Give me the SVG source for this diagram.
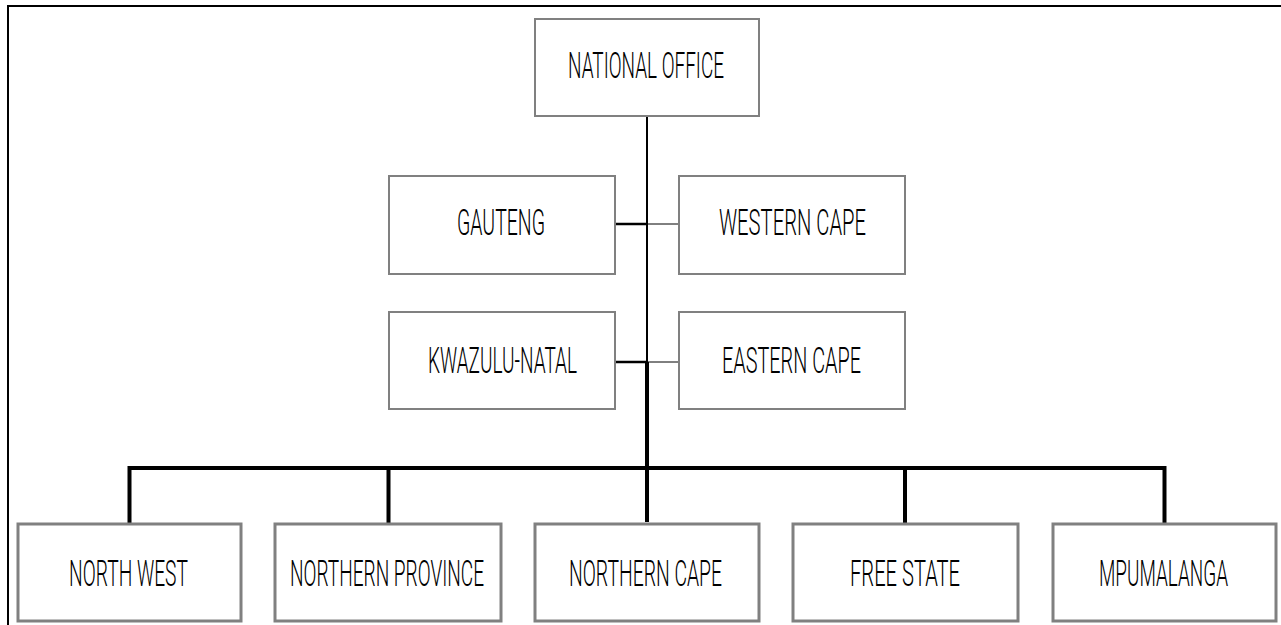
<svg xmlns="http://www.w3.org/2000/svg" width="1281" height="625" viewBox="0 0 1281 625">
<style>
.box{fill:#fff;stroke:#808080;stroke-width:2}
.boxb{fill:#fff;stroke:#808080;stroke-width:3}
.lbl{font-family:Roboto,"Liberation Sans",Arial,sans-serif;font-weight:300;font-size:37px;fill:#000}
.c{stroke:#000;fill:none}
</style>
<rect width="1281" height="625" fill="#fff"/>
<g id="frame">
<line x1="7" y1="6" x2="1281" y2="6" stroke="#000" stroke-width="2"/>
<line x1="8" y1="5" x2="8" y2="625" stroke="#000" stroke-width="2"/>
</g>
<g id="connectors">
<line class="c" x1="647" y1="116" x2="647" y2="362" stroke-width="2"/>
<line class="c" x1="647" y1="362" x2="647" y2="522" stroke-width="4"/>
<line class="c" x1="615" y1="224" x2="647" y2="224" stroke-width="2.5"/>
<line class="c" x1="647" y1="224" x2="679" y2="224" stroke-width="1"/>
<line class="c" x1="615" y1="362" x2="647" y2="362" stroke-width="2.5"/>
<line class="c" x1="647" y1="362" x2="679" y2="362" stroke-width="1"/>
<path class="c" stroke-width="4" d="M129.5,523 V468 H1164.5 V523 M388.5,468 V523 M905,468 V523"/>
</g>
<g id="national-office">
<rect class="box" x="535" y="19" width="224" height="97"/>
<text class="lbl" x="568" y="78" textLength="156" lengthAdjust="spacingAndGlyphs">NATIONAL OFFICE</text>
</g>
<g id="gauteng">
<rect class="box" x="389" y="176" width="226" height="98"/>
<text class="lbl" x="457" y="235" textLength="88" lengthAdjust="spacingAndGlyphs">GAUTENG</text>
</g>
<g id="western-cape">
<rect class="box" x="679" y="176" width="226" height="98"/>
<text class="lbl" x="719" y="235" textLength="147" lengthAdjust="spacingAndGlyphs">WESTERN CAPE</text>
</g>
<g id="kwazulu-natal">
<rect class="box" x="389" y="312" width="226" height="97"/>
<text class="lbl" x="428" y="373" textLength="149" lengthAdjust="spacingAndGlyphs">KWAZULU-NATAL</text>
</g>
<g id="eastern-cape">
<rect class="box" x="679" y="312" width="226" height="97"/>
<text class="lbl" x="722" y="373" textLength="139" lengthAdjust="spacingAndGlyphs">EASTERN CAPE</text>
</g>
<g id="north-west">
<rect class="boxb" x="18" y="524" width="223" height="97"/>
<text class="lbl" x="69" y="586" textLength="119" lengthAdjust="spacingAndGlyphs">NORTH WEST</text>
</g>
<g id="northern-province">
<rect class="boxb" x="275" y="524" width="226" height="97"/>
<text class="lbl" x="290" y="586" textLength="194" lengthAdjust="spacingAndGlyphs">NORTHERN PROVINCE</text>
</g>
<g id="northern-cape">
<rect class="boxb" x="535" y="524" width="224" height="97"/>
<text class="lbl" x="569" y="586" textLength="153" lengthAdjust="spacingAndGlyphs">NORTHERN CAPE</text>
</g>
<g id="free-state">
<rect class="boxb" x="793" y="524" width="225" height="97"/>
<text class="lbl" x="850" y="586" textLength="110" lengthAdjust="spacingAndGlyphs">FREE STATE</text>
</g>
<g id="mpumalanga">
<rect class="boxb" x="1053" y="524" width="223" height="97"/>
<text class="lbl" x="1099" y="586" textLength="129" lengthAdjust="spacingAndGlyphs">MPUMALANGA</text>
</g>
</svg>
